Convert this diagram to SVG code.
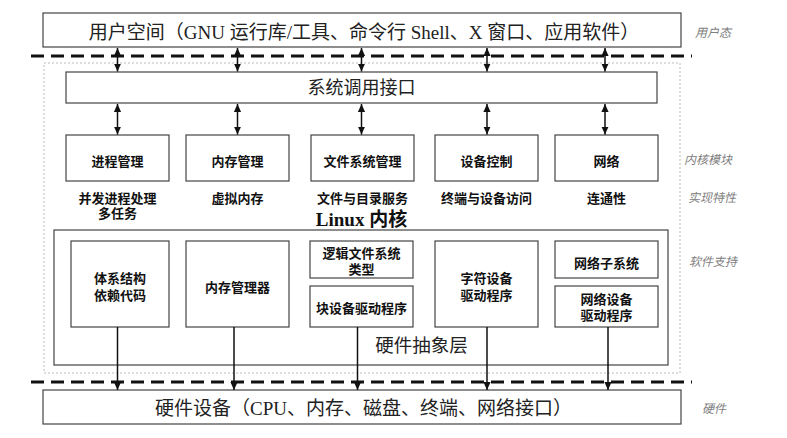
<svg xmlns="http://www.w3.org/2000/svg" width="787" height="438" viewBox="0 0 787 438">
<defs>
<style>
.bx{fill:#fff;stroke:#444;stroke-width:1.2}
.outer{fill:none;stroke:#bbb;stroke-width:1;stroke-dasharray:2 2}
.dash{stroke:#111;stroke-width:3;stroke-dasharray:13 7;fill:none}
.big{font-family:"Liberation Serif","Noto Sans CJK SC",serif;font-size:19px;fill:#222;text-anchor:middle}
.lbl{font-family:"Liberation Sans","Noto Sans CJK SC",sans-serif;font-size:13px;font-weight:bold;fill:#111;text-anchor:middle}
.side{font-family:"Liberation Serif","Noto Sans CJK SC",serif;font-size:12px;font-style:italic;fill:#808080}
.title{font-family:"Liberation Serif","Noto Sans CJK SC",serif;font-size:19px;font-weight:bold;fill:#111;text-anchor:middle}
.ar{stroke:#111;stroke-width:1.5;fill:none}
</style>
<marker id="ah" viewBox="0 0 10 10" refX="10" refY="5" markerWidth="8" markerHeight="9" markerUnits="userSpaceOnUse" orient="auto-start-reverse">
<path d="M0,0.5 L10,5 L0,9.5 z" fill="#111"/>
</marker>
</defs>
<rect width="787" height="438" fill="#fff"/>

<g id="kernel-frame">
<rect class="outer" x="44" y="63" width="636" height="310"/>
</g>

<g id="user-space">
<rect class="bx" x="43" y="13" width="638" height="34"/>
<text class="big" x="364" y="39">用户空间（GNU 运行库/工具、命令行 Shell、X 窗口、应用软件）</text>
</g>

<g id="boundaries">
<line class="dash" x1="31" y1="56" x2="692" y2="56"/>
<line class="dash" x1="31" y1="382" x2="692" y2="382"/>
</g>

<g id="syscall">
<rect class="bx" x="66" y="72" width="591" height="31"/>
<text class="big" x="361.5" y="94" style="font-size:18px">系统调用接口</text>
</g>

<g id="m-process">
<rect class="bx" x="66" y="135" width="103" height="46"/>
<text class="lbl" x="117.5" y="166">进程管理</text>
<text class="lbl" x="117.5" y="203">并发进程处理</text>
<text class="lbl" x="117.5" y="218">多任务</text>
</g>
<g id="m-memory">
<rect class="bx" x="186" y="135" width="103" height="46"/>
<text class="lbl" x="237.5" y="166">内存管理</text>
<text class="lbl" x="237.5" y="203">虚拟内存</text>
</g>
<g id="m-fs">
<rect class="bx" x="311" y="135" width="103" height="46"/>
<text class="lbl" x="362.5" y="166">文件系统管理</text>
<text class="lbl" x="362.5" y="203">文件与目录服务</text>
</g>
<g id="m-dev">
<rect class="bx" x="435" y="135" width="103" height="46"/>
<text class="lbl" x="486.5" y="166">设备控制</text>
<text class="lbl" x="486.5" y="203">终端与设备访问</text>
</g>
<g id="m-net">
<rect class="bx" x="555" y="135" width="103" height="46"/>
<text class="lbl" x="606.5" y="166">网络</text>
<text class="lbl" x="606.5" y="203">连通性</text>
</g>

<g id="kernel-title">
<text class="title" x="361.5" y="226">Linux 内核</text>
</g>

<g id="hal">
<rect class="bx" x="54" y="230" width="614" height="135"/>
<text class="big" x="421.5" y="352" style="font-size:18.5px">硬件抽象层</text>
</g>

<g id="h-arch">
<rect class="bx" x="71" y="241" width="98" height="86"/>
<text class="lbl" x="120" y="283">体系结构</text>
<text class="lbl" x="120" y="300">依赖代码</text>
</g>
<g id="h-mm">
<rect class="bx" x="186" y="241" width="103" height="86"/>
<text class="lbl" x="237.5" y="292">内存管理器</text>
</g>
<g id="h-lfs">
<rect class="bx" x="310" y="241" width="103" height="37"/>
<text class="lbl" x="361.5" y="258">逻辑文件系统</text>
<text class="lbl" x="361.5" y="274">类型</text>
</g>
<g id="h-blk">
<rect class="bx" x="310" y="286" width="103" height="41"/>
<text class="lbl" x="361.5" y="313">块设备驱动程序</text>
</g>
<g id="h-chr">
<rect class="bx" x="435" y="241" width="103" height="86"/>
<text class="lbl" x="486.5" y="283">字符设备</text>
<text class="lbl" x="486.5" y="300">驱动程序</text>
</g>
<g id="h-netsub">
<rect class="bx" x="555" y="241" width="103" height="37"/>
<text class="lbl" x="606.5" y="268">网络子系统</text>
</g>
<g id="h-netdrv">
<rect class="bx" x="555" y="286" width="103" height="41"/>
<text class="lbl" x="606.5" y="304">网络设备</text>
<text class="lbl" x="606.5" y="320">驱动程序</text>
</g>

<g id="hardware">
<rect class="bx" x="43" y="390" width="638" height="34"/>
<text class="big" x="363.5" y="415">硬件设备（CPU、内存、磁盘、终端、网络接口）</text>
</g>

<g id="side-labels">
<text class="side" x="695" y="37">用户态</text>
<text class="side" x="684" y="164">内核模块</text>
<text class="side" x="688" y="202">实现特性</text>
<text class="side" x="689" y="266">软件支持</text>
<text class="side" x="702" y="413">硬件</text>
</g>

<g id="connectors">
<line class="ar" x1="117.5" y1="48" x2="117.5" y2="71.5" marker-start="url(#ah)" marker-end="url(#ah)"/>
<line class="ar" x1="237.5" y1="48" x2="237.5" y2="71.5" marker-start="url(#ah)" marker-end="url(#ah)"/>
<line class="ar" x1="361.5" y1="48" x2="361.5" y2="71.5" marker-start="url(#ah)" marker-end="url(#ah)"/>
<line class="ar" x1="487" y1="48" x2="487" y2="71.5" marker-start="url(#ah)" marker-end="url(#ah)"/>
<line class="ar" x1="605" y1="48" x2="605" y2="71.5" marker-start="url(#ah)" marker-end="url(#ah)"/>
<line class="ar" x1="117.5" y1="104" x2="117.5" y2="134.5" marker-start="url(#ah)" marker-end="url(#ah)"/>
<line class="ar" x1="237.5" y1="104" x2="237.5" y2="134.5" marker-start="url(#ah)" marker-end="url(#ah)"/>
<line class="ar" x1="361.5" y1="104" x2="361.5" y2="134.5" marker-start="url(#ah)" marker-end="url(#ah)"/>
<line class="ar" x1="487" y1="104" x2="487" y2="134.5" marker-start="url(#ah)" marker-end="url(#ah)"/>
<line class="ar" x1="605" y1="104" x2="605" y2="134.5" marker-start="url(#ah)" marker-end="url(#ah)"/>
<line class="ar" x1="117.5" y1="327" x2="117.5" y2="390" marker-end="url(#ah)"/>
<line class="ar" x1="234" y1="327" x2="234" y2="390" marker-end="url(#ah)"/>
<line class="ar" x1="357.5" y1="327" x2="357.5" y2="390" marker-end="url(#ah)"/>
<line class="ar" x1="487" y1="327" x2="487" y2="390" marker-end="url(#ah)"/>
<line class="ar" x1="608" y1="327" x2="608" y2="390" marker-end="url(#ah)"/>
</g>
</svg>
